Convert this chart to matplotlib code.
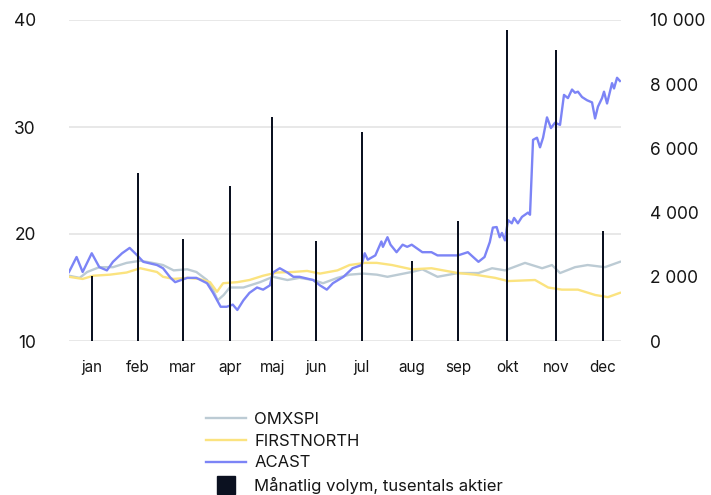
import matplotlib
matplotlib.use("Agg")
import matplotlib.pyplot as plt
from matplotlib.lines import Line2D

plt.rcParams['font.family'] = ['Inter', 'DejaVu Sans']

# ---- data (x = day of year) ----
months = ["jan", "feb", "mar", "apr", "maj", "jun", "jul", "aug", "sep", "okt", "nov", "dec"]
month_day = [15, 45.5, 75, 106, 134, 163, 193, 226, 256.5, 289, 321, 352]
volume = [2020, 5230, 3180, 4830, 6980, 3120, 6510, 2490, 3740, 9690, 9065, 3430]

acast_day = [0, 5, 9, 15, 20, 25, 29, 35, 40, 45, 49, 58, 62, 67, 70, 78, 84, 91, 95, 100,
             104, 108, 111, 115, 119, 124, 128, 132.5, 134.5, 139, 144, 148, 152, 161, 165.5,
             170, 174, 181, 187, 193, 195, 197, 202, 206, 207, 210, 212, 216, 220, 223, 226,
             228, 233, 239, 243, 250, 256.5, 263, 270, 274, 277.5, 279.5, 282, 284, 285.5,
             287.5, 289.5, 292, 293.5, 296, 298.7, 302.7, 304, 306, 308.6, 310.6, 312.6, 315.2,
             317.8, 320.5, 323.8, 326.4, 329, 331.7, 333.7, 335.6, 338.3, 341.6, 344.9, 346.9,
             348.8, 351.5, 352.8, 354.8, 358.1, 359.4, 361.4, 363.3]
acast_val = [16.45, 17.85, 16.45, 18.2, 16.9, 16.6, 17.4, 18.2, 18.7, 18.0, 17.4, 17.1, 16.8,
             15.9, 15.5, 15.9, 15.9, 15.4, 14.5, 13.2, 13.2, 13.4, 12.9, 13.8, 14.5, 15.0, 14.8,
             15.2, 16.4, 16.8, 16.4, 16.0, 16.0, 15.7, 15.2, 14.8, 15.4, 16.0, 16.8, 17.1, 18.2,
             17.6, 18.0, 19.3, 18.8, 19.7, 19.0, 18.3, 19.0, 18.8, 19.0, 18.8, 18.3, 18.3, 18.0,
             18.0, 18.0, 18.3, 17.4, 17.85, 19.25, 20.6, 20.65, 19.7, 20.1, 19.4, 21.3, 21.0,
             21.5, 21.0, 21.6, 22.0, 21.8, 28.8, 29.0, 28.1, 29.0, 30.9, 29.9, 30.4, 30.2, 33.0,
             32.7, 33.5, 33.2, 33.3, 32.8, 32.5, 32.3, 30.8, 31.9, 32.7, 33.3, 32.2, 34.1, 33.6,
             34.6, 34.3]

omx_day = [0, 7, 12, 20, 29, 38, 47, 55, 62, 69, 78, 84, 91, 95, 98, 102, 106, 115, 126, 134.5,
           144, 152, 161, 167.5, 177, 185, 194, 203, 210, 226, 233, 243, 256.5, 270, 279, 287.5,
           300.7, 312, 318.5, 323.8, 333.7, 342, 353.4, 363.3]
omx_val = [16.1, 15.9, 16.45, 16.9, 16.9, 17.3, 17.5, 17.3, 17.1, 16.6, 16.7, 16.45, 15.7, 14.8,
           13.8, 14.3, 15.0, 15.0, 15.5, 16.0, 15.7, 15.9, 15.7, 15.4, 15.9, 16.2, 16.3, 16.2,
           16.0, 16.45, 16.7, 16.0, 16.35, 16.35, 16.8, 16.6, 17.3, 16.8, 17.1, 16.35, 16.9,
           17.1, 16.9, 17.4]

fn_day = [0, 9, 16, 27, 38, 47, 58, 62, 69, 78, 86, 93, 97.6, 101.6, 111, 119, 128, 137, 147.7,
          157, 165.5, 177, 185, 195, 203, 213, 226, 239, 256.5, 267.7, 281, 289.5, 307.3, 316,
          325, 335.6, 347, 355.4, 363.3]
fn_val = [16.0, 15.8, 16.1, 16.2, 16.4, 16.8, 16.45, 16.0, 15.8, 15.9, 15.8, 15.5, 14.6, 15.4,
          15.5, 15.7, 16.1, 16.4, 16.45, 16.55, 16.3, 16.6, 17.1, 17.3, 17.3, 17.1, 16.7, 16.8,
          16.35, 16.2, 15.9, 15.6, 15.7, 15.0, 14.8, 14.8, 14.3, 14.1, 14.5]

left_ticks = [10, 20, 30, 40]
right_ticks = [0, 2000, 4000, 6000, 8000, 10000]

# ---- styling ----
c_omx = "#bccbd4"
c_fn = "#fbe37f"
c_acast = "#7c84f6"
c_bar = "#0b1120"
txt = "#161616"

fig = plt.figure(figsize=(7.11, 4.95), dpi=100)
ax = fig.add_axes([69 / 711, 1 - 341 / 495, (621 - 69) / 711, (341 - 20) / 495])
ax2 = ax.twinx()

l1, = ax.plot(omx_day, omx_val, color=c_omx, lw=1.7, label="OMXSPI")
l2, = ax.plot(fn_day, fn_val, color=c_fn, lw=1.7, label="FIRSTNORTH")
l3, = ax.plot(acast_day, acast_val, color=c_acast, lw=1.7, label="ACAST")

ax2.bar(month_day, volume, width=1.4, color=c_bar)

ax.set_xlim(0, 364)
ax.set_ylim(10, 40)
ax2.set_ylim(0, 10000)
ax.set_yticks(left_ticks)
ax.set_yticklabels([str(v) for v in left_ticks])
ax2.set_yticks(right_ticks)
ax2.set_yticklabels([f"{v:,}".replace(",", " ") for v in right_ticks])
ax.set_xticks(month_day)
ax.set_xticklabels(months)

ax.grid(axis="y", color="#e6e6e6", lw=1.3)
ax.set_axisbelow(True)
for a in (ax, ax2):
    for s in a.spines.values():
        s.set_visible(False)
ax.tick_params(axis="y", length=0, pad=24, labelsize=12.5, colors=txt)
ax2.tick_params(axis="y", length=0, pad=21, labelsize=12.5, colors=txt)
ax.tick_params(axis="x", length=0, pad=14, labelsize=11, colors=txt)

sq = Line2D([], [], ls="none", marker="s", markersize=13.5, color=c_bar)
fig.legend([l1, l2, l3, sq],
           ["OMXSPI", "FIRSTNORTH", "ACAST", "Månatlig volym, tusentals aktier"],
           loc="upper left", bbox_to_anchor=(206 / 711, 1 - 412 / 495),
           frameon=False, borderpad=0, borderaxespad=0, handlelength=2.4,
           handletextpad=0.5, labelspacing=0.4, fontsize=12, labelcolor=txt)

fig.savefig("out.png", dpi=100)
